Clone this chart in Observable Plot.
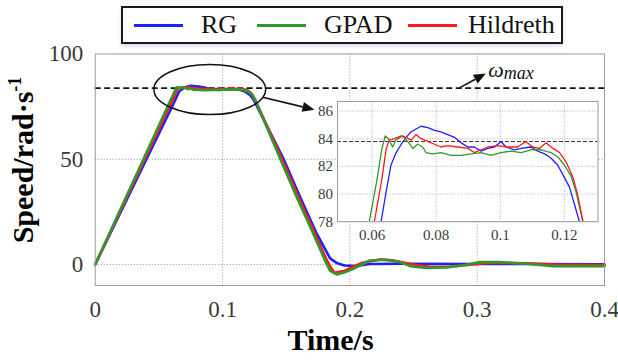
<!DOCTYPE html>
<html><head><meta charset="utf-8">
<script src="https://cdn.jsdelivr.net/npm/d3@7"></script>
<script src="https://cdn.jsdelivr.net/npm/@observablehq/plot@0.6"></script>
<style>
body{margin:0;background:#fff;}
#wrap{position:relative;width:618px;height:361px;font-family:"Liberation Serif",serif;overflow:hidden;}
#legend{position:relative;height:46px;}
#legbox{position:absolute;left:121px;top:6px;width:438px;height:34px;border:2px solid #1a1a1a;box-shadow:0 2px 4px rgba(90,110,200,0.25);background:#fff;}
.sw{position:absolute;top:23.5px;height:3px;width:49px;}
.lt{position:absolute;top:11.5px;font-size:26px;line-height:26px;color:#111;white-space:nowrap;}
#inset{position:absolute;left:296.5px;top:95.5px;}
#wrap svg{display:block;}
#wrap svg text{font-family:"Liberation Serif","Times New Roman",serif;}
</style>
</head><body>
<div id="wrap">
  <div id="legend"><div id="legbox"></div></div>
</div>
<script>
// ---------- data ----------
const seriesNames = ["RG", "GPAD", "Hildreth"];
const seriesColors = ["#1f1fff", "#2f9a2a", "#ff1a1a"];

const t_RG = [0, 0.0628, 0.0644, 0.0659, 0.0675, 0.0691, 0.0706, 0.0722, 0.0737, 0.0753, 0.0774, 0.0795, 0.0815, 0.0836, 0.0857, 0.0878, 0.0899, 0.0919, 0.0940, 0.0961, 0.0982, 0.1002, 0.1018, 0.1044, 0.1065, 0.1096, 0.1117, 0.1138, 0.1158, 0.1179, 0.1200, 0.1216, 0.1231, 0.1247, 0.1478, 0.1609, 0.1740, 0.1844, 0.1870, 0.1900, 0.1960, 0.2050, 0.2158, 0.2400, 0.3000, 0.3500, 0.4000];
const v_RG = [0, 78.0, 80.2, 82.1, 83.0, 83.6, 84.1, 84.5, 84.7, 84.9, 84.8, 84.6, 84.5, 84.3, 84.1, 83.7, 83.4, 83.4, 83.1, 83.3, 83.4, 83.8, 83.4, 83.2, 83.3, 83.4, 83.1, 82.9, 82.6, 82.1, 81.2, 80.5, 79.3, 78.0, 50.3, 32.0, 14.6, 3.0, 1.8, 0.6, -0.5, -0.7, 0.2, 0.3, 0.2, 0.2, 0.1];

const t_GPAD = [0, 0.0591, 0.0615, 0.0630, 0.0641, 0.0651, 0.0664, 0.0674, 0.0695, 0.0711, 0.0727, 0.0742, 0.0758, 0.0768, 0.0789, 0.0815, 0.0846, 0.0878, 0.0909, 0.0940, 0.0971, 0.1002, 0.1033, 0.1065, 0.1096, 0.1127, 0.1158, 0.1179, 0.1200, 0.1221, 0.1237, 0.1247, 0.1258, 0.1452, 0.1583, 0.1713, 0.1805, 0.1844, 0.1897, 0.1960, 0.2027, 0.2079, 0.2158, 0.2288, 0.2393, 0.2471, 0.2602, 0.2759, 0.2915, 0.3020, 0.3176, 0.3386, 0.3594, 0.4000];
const v_GPAD = [0, 78.0, 81.0, 83.2, 84.2, 84.0, 83.4, 83.9, 84.2, 83.8, 83.3, 83.6, 83.4, 83.0, 82.9, 83.0, 82.8, 82.8, 82.9, 83.0, 82.8, 83.0, 83.1, 83.0, 83.2, 83.2, 83.0, 82.7, 82.1, 81.3, 80.1, 79.1, 78.0, 50.3, 32.0, 14.6, 1.9, -2.9, -4.8, -3.7, -2.1, -0.5, 1.9, 2.2, 1.1, -0.8, -1.7, -1.4, -0.1, 1.1, 1.1, 0.3, -0.8, -0.8];

const t_Hildreth = [0, 0.0607, 0.0630, 0.0644, 0.0654, 0.0670, 0.0691, 0.0706, 0.0722, 0.0737, 0.0753, 0.0774, 0.0795, 0.0815, 0.0836, 0.0867, 0.0899, 0.0919, 0.0940, 0.0961, 0.0992, 0.1023, 0.1054, 0.1080, 0.1101, 0.1122, 0.1143, 0.1164, 0.1185, 0.1206, 0.1227, 0.1242, 0.1258, 0.1465, 0.1596, 0.1727, 0.1815, 0.1850, 0.1880, 0.1960, 0.2027, 0.2100, 0.2236, 0.2350, 0.2497, 0.2628, 0.2800, 0.2970, 0.3100, 0.3400, 0.3600, 0.4000];
const v_Hildreth = [0, 78.0, 81.0, 83.3, 83.9, 84.0, 84.2, 84.1, 83.9, 84.3, 84.0, 83.8, 83.6, 83.4, 83.5, 83.4, 83.3, 83.0, 83.2, 83.4, 83.5, 83.4, 83.4, 83.8, 83.4, 83.3, 83.7, 83.3, 83.0, 82.3, 81.2, 79.9, 78.0, 50.3, 32.0, 14.6, 2.5, -1.5, -3.9, -3.0, -1.1, 0.8, 2.4, 1.8, 0.0, -1.1, -1.0, 0.0, 0.8, 0.6, 0.0, -0.3];

const wmax = 83.8;
const xTicks = [0, 0.1, 0.2, 0.3, 0.4];
const yTicks = [0, 50, 100];
const insetXTicks = [0.06, 0.08, 0.1, 0.12];
const insetYTicks = [78, 80, 82, 84, 86];
const xLabel = "Time/s";
const yLabelMain = "Speed/rad·s";
const yLabelSup = "-1";
const wLabel = "ω";
const wSub = "max";

// ---------- build rows ----------
const rows = (t, v, s) => t.map((d, i) => ({t: d, v: v[i], s}));
const dRG = rows(t_RG, v_RG, "RG");
const dGPAD = rows(t_GPAD, v_GPAD, "GPAD");
const dHil = rows(t_Hildreth, v_Hildreth, "Hildreth");
const colorOf = Object.fromEntries(seriesNames.map((n, i) => [n, seriesColors[i]]));

const FONT = '"Liberation Serif", "Times New Roman", serif';
const wrap = document.getElementById("wrap");

// ---------- legend ----------
const legend = document.getElementById("legend");
const legPos = [[134, 201], [257, 324], [408, 468]];
seriesNames.forEach((n, i) => {
  const sw = document.createElement("div");
  sw.className = "sw"; sw.style.left = legPos[i][0] + "px"; sw.style.background = seriesColors[i];
  legend.appendChild(sw);
  const lt = document.createElement("div");
  lt.className = "lt"; lt.style.left = legPos[i][1] + "px"; lt.textContent = n;
  legend.appendChild(lt);
});

// ---------- main plot ----------
const mainLine = (d, w) => Plot.line(d, {x: "t", y: "v", stroke: colorOf[d[0].s], strokeWidth: w, curve: "linear"});
const main = Plot.plot({
  width: 618, height: 315,
  marginLeft: 94.7, marginRight: 14, marginTop: 7.5, marginBottom: 76,
  style: {fontFamily: FONT, background: "white", overflow: "visible"},
  x: {domain: [0, 0.4]},
  y: {domain: [-10, 100]},
  marks: [
    Plot.gridX(xTicks.slice(1, -1), {stroke: "#8a8a8a", strokeOpacity: 1, strokeDasharray: "1,2"}),
    Plot.gridY([0, 50], {stroke: "#8a8a8a", strokeOpacity: 1, strokeDasharray: "1,2"}),
    Plot.ruleY([wmax], {stroke: "#111", strokeWidth: 1.6, strokeDasharray: "6,3.5"}),
    mainLine(dRG, 2.6),
    mainLine(dHil, 2.6),
    mainLine(dGPAD, 2.6),
    Plot.frame({stroke: "#9a9a9a"}),
    Plot.axisX(xTicks, {tickSize: 0, tickPadding: 15, fontSize: 23, fontFamily: FONT, fill: "#3a3a3a", label: null, tickFormat: d => String(d)}),
    Plot.axisY(yTicks, {tickSize: 0, tickPadding: 12, fontSize: 23, fontFamily: FONT, fill: "#3a3a3a", label: null, tickFormat: d => String(d)})
  ]
});
wrap.appendChild(main);

// annotations on main
const sx = main.scale("x"), sy = main.scale("y");
const X = v => sx.apply(v), Y = v => sy.apply(v);
const svg = d3.select(main).attr("font-family", FONT);
const ann = svg.append("g").attr("text-anchor", "start");

// ellipse around plateau
const ell = {t: 0.0904, v: 82.9, dt: 0.0439, dv: 11.9};
ann.append("ellipse")
  .attr("cx", X(ell.t)).attr("cy", Y(ell.v))
  .attr("rx", X(ell.t + ell.dt) - X(ell.t)).attr("ry", Y(ell.v) - Y(ell.v + ell.dv))
  .attr("fill", "none").attr("stroke", "#111").attr("stroke-width", 1.5);

function arrow(t1, v1, t2, v2) {
  const x1 = X(t1), y1 = Y(v1), x2 = X(t2), y2 = Y(v2);
  const a = Math.atan2(y2 - y1, x2 - x1), L = 12, W = 5;
  const bx = x2 - L * Math.cos(a), by = y2 - L * Math.sin(a);
  ann.append("line").attr("x1", x1).attr("y1", y1).attr("x2", bx).attr("y2", by)
    .attr("stroke", "#111").attr("stroke-width", 1.6);
  const px = -Math.sin(a) * W, py = Math.cos(a) * W;
  ann.append("polygon")
    .attr("points", `${x2},${y2} ${bx + px},${by + py} ${bx - px},${by - py}`)
    .attr("fill", "#111");
}
arrow(0.1319, 79.2, 0.1726, 73.3);
arrow(0.2868, 83.8, 0.3072, 90.5);

const wt = ann.append("text").attr("x", X(0.3090)).attr("y", Y(88.6)).attr("text-anchor", "start")
  .attr("font-family", FONT).attr("font-style", "italic").attr("fill", "#111");
wt.append("tspan").attr("font-size", 22).text(wLabel);
wt.append("tspan").attr("font-size", 18).attr("dy", 2).text(wSub);

// axis titles
ann.append("text").attr("x", 330.5).attr("y", 304).attr("text-anchor", "middle")
  .attr("font-family", FONT).attr("font-weight", "bold").attr("font-size", 30).attr("fill", "#000")
  .text(xLabel);
const yl = ann.append("text").attr("transform", "translate(33.3,114) rotate(-90)").attr("text-anchor", "middle")
  .attr("font-family", FONT).attr("font-weight", "bold").attr("font-size", 30).attr("fill", "#000");
yl.append("tspan").text(yLabelMain);
yl.append("tspan").attr("font-size", 18).attr("dy", -12).text(yLabelSup);

// ---------- inset ----------
const insetLine = d => Plot.line(d, {x: "t", y: "v", stroke: colorOf[d[0].s], strokeWidth: 1.3, clip: true});
const inset = Plot.plot({
  width: 305.5, height: 150.2,
  marginLeft: 40, marginRight: 5, marginTop: 5, marginBottom: 25,
  style: {fontFamily: FONT, background: "transparent", overflow: "visible"},
  x: {domain: [0.0492, 0.1305]},
  y: {domain: [78, 86.69]},
  marks: [
    Plot.frame({fill: "white", stroke: "none"}),
    Plot.gridX(insetXTicks, {stroke: "#b5b5b5", strokeOpacity: 1, strokeDasharray: "1,1.5"}),
    Plot.gridY(insetYTicks, {stroke: "#b5b5b5", strokeOpacity: 1, strokeDasharray: "1,1.5"}),
    Plot.ruleY([wmax], {stroke: "#333", strokeWidth: 1, strokeDasharray: "4,2"}),
    insetLine(dRG),
    insetLine(dGPAD),
    insetLine(dHil),
    Plot.frame({stroke: "#9a9a9a"}),
    Plot.axisX(insetXTicks, {tickSize: 0, tickPadding: 7.5, fontSize: 15, fontFamily: FONT, fill: "#3a3a3a", label: null, tickFormat: d => String(d)}),
    Plot.axisY(insetYTicks, {tickSize: 0, tickPadding: 4.5, fontSize: 15, fontFamily: FONT, fill: "#3a3a3a", label: null, tickFormat: d => String(d)})
  ]
});
inset.id = "inset";
d3.select(inset).attr("font-family", FONT);
wrap.appendChild(inset);
</script>
</body></html>
